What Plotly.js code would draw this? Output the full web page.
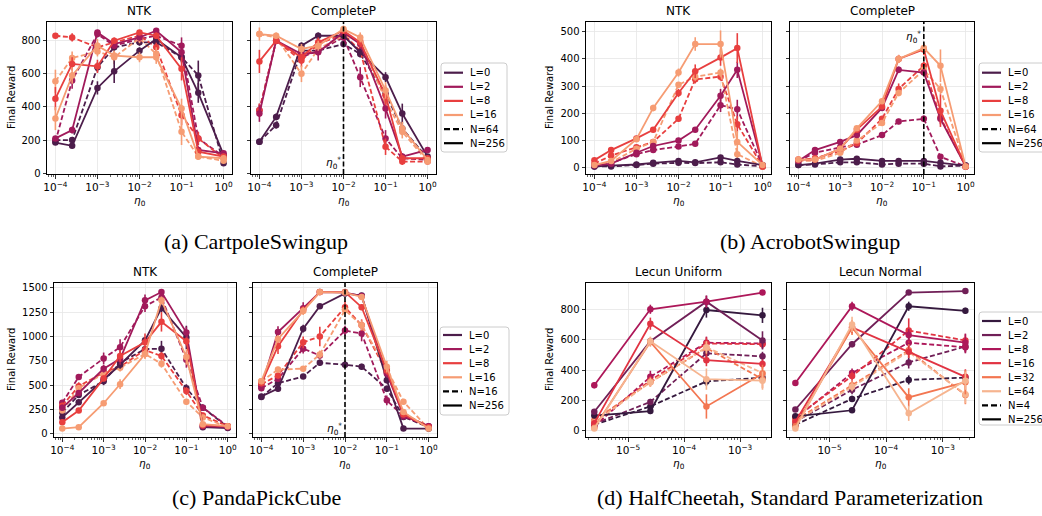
<!DOCTYPE html>
<html>
<head>
<meta charset="utf-8">
<script src="https://cdn.plot.ly/plotly-3.0.1.min.js"></script>
<style>html,body{margin:0;padding:0;background:#fff;}#chart{width:1042px;height:516px;}</style>
</head>
<body>
<div id="chart"></div>
<script>
// ---------------- DATA ----------------
const ETA_GRID = [1e-4, 2.5e-4, 1e-3, 2.5e-3, 1e-2, 2.5e-2, 1e-1, 2.5e-1, 1];
const ETA_LECUN = [2.5e-6, 2.5e-5, 2.5e-4, 2.5e-3];
const DEPTH4 = ['L=0', 'L=2', 'L=8', 'L=16'];
const DEPTH6 = ['L=0', 'L=2', 'L=8', 'L=16', 'L=32', 'L=64'];
const COLORS4 = ['#4c1d4b', '#a11a5b', '#e83f3f', '#f69c73'];
const COLORS6 = ['#35193e', '#701f57', '#ad1759', '#e13342', '#f37651', '#f6b48f'];
const X_TICKS_GRID = [1e-4, 1e-3, 1e-2, 1e-1, 1];
const X_TICKTEXT_GRID = ['10<sup>−4</sup>', '10<sup>−3</sup>', '10<sup>−2</sup>', '10<sup>−1</sup>', '10<sup>0</sup>'];
const X_TICKS_LECUN = [1e-5, 1e-4, 1e-3];
const X_TICKTEXT_LECUN = ['10<sup>−5</sup>', '10<sup>−4</sup>', '10<sup>−3</sup>'];
const PANEL_TITLES = ['NTK', 'CompleteP', 'NTK', 'CompleteP', 'NTK', 'CompleteP', 'Lecun Uniform', 'Lecun Normal'];
const CAPTIONS = ['(a) CartpoleSwingup', '(b) AcrobotSwingup', '(c) PandaPickCube', '(d) HalfCheetah, Standard Parameterization'];
const WIDTH_LABELS_A = ['N=64', 'N=256'];
const WIDTH_LABELS_B = ['N=64', 'N=256'];
const WIDTH_LABELS_C = ['N=16', 'N=256'];
const WIDTH_LABELS_D = ['N=4', 'N=256'];
const ETA_STAR = {cart: 1e-2, acro: 1e-1, panda: 1e-2};

// (a) CartpoleSwingup, NTK  (rows: L=0, L=2, L=8, L=16)
const cartNtkN64 = [
  [200, 200, 640, 760, 790, 790, 700, 590, 60],
  [190, 560, 840, 770, 810, 830, 770, 210, 100],
  [830, 820, 760, 790, 830, 760, 350, 210, 90],
  [555, 695, 735, 700, 815, 720, 250, 100, 75]];
const cartNtkN64Err = [
  [15, 15, 30, 30, 20, 20, 30, 90, 15],
  [15, 50, 20, 20, 20, 20, 50, 40, 15],
  [10, 25, 30, 20, 20, 30, 60, 40, 15],
  [70, 40, 30, 40, 30, 40, 80, 20, 15]];
const cartNtkN256 = [
  [185, 165, 515, 615, 740, 810, 700, 485, 110],
  [210, 260, 850, 780, 820, 860, 730, 140, 120],
  [450, 660, 645, 800, 850, 830, 630, 130, 100],
  [330, 590, 770, 710, 700, 700, 390, 100, 90]];
const cartNtkN256Err = [
  [15, 15, 40, 70, 20, 20, 30, 60, 20],
  [15, 20, 15, 20, 20, 15, 50, 20, 15],
  [70, 40, 40, 20, 15, 20, 70, 20, 15],
  [70, 50, 40, 30, 30, 40, 60, 20, 15]];
// (a) CartpoleSwingup, CompleteP
const cartCpN64 = [
  [190, 290, 740, 740, 780, 720, 480, 270, 90],
  [380, 800, 700, 740, 820, 580, 210, 90, 80],
  [380, 800, 680, 780, 840, 740, 160, 70, 70],
  [840, 820, 600, 750, 830, 800, 440, 250, 70]];
const cartCpN64Err = [
  [15, 20, 20, 20, 20, 20, 40, 40, 15],
  [40, 20, 40, 30, 20, 60, 50, 20, 15],
  [40, 20, 40, 30, 20, 30, 50, 20, 15],
  [20, 20, 50, 30, 20, 30, 50, 40, 15]];
const cartCpN256 = [
  [190, 340, 770, 830, 830, 730, 580, 360, 100],
  [360, 800, 720, 730, 850, 780, 390, 100, 140],
  [675, 800, 700, 790, 860, 790, 470, 90, 90],
  [840, 830, 750, 770, 870, 820, 500, 270, 80]];
const cartCpN256Err = [
  [15, 20, 20, 20, 20, 30, 30, 60, 15],
  [50, 20, 30, 50, 20, 30, 60, 20, 15],
  [70, 20, 30, 30, 20, 30, 60, 20, 15],
  [40, 20, 30, 30, 20, 30, 50, 40, 15]];

// (b) AcrobotSwingup, NTK
const acroNtkN64 = [
  [5, 5, 10, 15, 18, 17, 20, 12, 5],
  [8, 18, 50, 65, 78, 88, 230, 215, 8],
  [15, 45, 75, 95, 180, 325, 335, 160, 5],
  [10, 20, 70, 95, 305, 335, 350, 50, 5]];
const acroNtkN64Err = [
  [3, 3, 3, 4, 4, 4, 5, 4, 3],
  [3, 4, 5, 6, 6, 6, 25, 35, 3],
  [4, 6, 8, 8, 10, 15, 15, 30, 3],
  [3, 5, 8, 10, 10, 15, 15, 15, 3]];
const acroNtkN256 = [
  [5, 8, 12, 18, 25, 20, 38, 25, 10],
  [8, 15, 55, 80, 100, 140, 265, 360, 8],
  [28, 65, 108, 140, 275, 355, 405, 440, 5],
  [10, 25, 105, 220, 350, 455, 455, 95, 10]];
const acroNtkN256Err = [
  [3, 3, 4, 4, 5, 4, 6, 5, 3],
  [3, 4, 6, 6, 8, 8, 25, 30, 3],
  [5, 6, 8, 8, 15, 25, 30, 55, 3],
  [3, 5, 8, 12, 15, 25, 50, 40, 3]];
// (b) AcrobotSwingup, CompleteP
const acroCpN64 = [
  [10, 12, 20, 20, 12, 15, 15, 5, 8],
  [25, 55, 75, 85, 120, 170, 180, 40, 5],
  [28, 35, 60, 90, 180, 290, 375, 185, 5],
  [25, 25, 55, 100, 165, 275, 360, 290, 5]];
const acroCpN64Err = [
  [3, 3, 4, 4, 3, 3, 3, 3, 3],
  [4, 5, 6, 6, 8, 10, 12, 8, 3],
  [4, 5, 6, 8, 10, 20, 15, 20, 3],
  [4, 4, 6, 8, 10, 12, 15, 20, 3]];
const acroCpN256 = [
  [10, 15, 30, 33, 25, 25, 25, 18, 8],
  [25, 65, 95, 120, 220, 360, 350, 180, 5],
  [30, 30, 70, 140, 225, 400, 435, 210, 5],
  [30, 30, 70, 145, 245, 400, 440, 375, 5]];
const acroCpN256Err = [
  [3, 3, 4, 4, 4, 4, 4, 4, 3],
  [4, 6, 6, 8, 10, 12, 12, 20, 3],
  [4, 4, 6, 8, 10, 15, 20, 60, 3],
  [4, 4, 6, 8, 10, 15, 20, 60, 3]];

// (c) PandaPickCube, NTK
const pandaNtkN16 = [
  [220, 400, 540, 730, 870, 875, 470, 270, 70],
  [320, 585, 775, 890, 1310, 1400, 760, 270, 80],
  [290, 490, 630, 690, 860, 800, 440, 190, 80],
  [240, 470, 620, 680, 820, 720, 330, 170, 70]];
const pandaNtkN16Err = [
  [20, 20, 40, 40, 30, 80, 40, 30, 10],
  [30, 30, 60, 80, 60, 30, 80, 30, 10],
  [30, 40, 40, 40, 40, 40, 40, 30, 10],
  [20, 30, 40, 40, 50, 40, 30, 30, 10]];
const pandaNtkN256 = [
  [170, 325, 560, 710, 960, 1290, 990, 70, 60],
  [270, 420, 670, 770, 1370, 1455, 1040, 80, 70],
  [120, 240, 570, 800, 940, 1150, 950, 90, 80],
  [55, 70, 315, 510, 820, 1370, 790, 100, 80]];
const pandaNtkN256Err = [
  [20, 20, 30, 40, 30, 40, 120, 20, 10],
  [30, 30, 40, 60, 60, 20, 60, 20, 10],
  [20, 20, 30, 60, 90, 100, 40, 20, 10],
  [10, 10, 20, 50, 40, 40, 80, 20, 10]];
// (c) PandaPickCube, CompleteP
const pandaCpN16 = [
  [380, 520, 590, 730, 710, 690, 465, 175, 70],
  [470, 565, 875, 805, 1060, 1030, 345, 180, 80],
  [510, 600, 940, 1000, 1300, 1115, 635, 210, 70],
  [540, 660, 670, 815, 1270, 1115, 670, 330, 55]];
const pandaCpN16Err = [
  [20, 20, 20, 30, 30, 30, 30, 20, 10],
  [30, 30, 50, 40, 50, 80, 50, 20, 10],
  [30, 30, 60, 100, 60, 60, 50, 20, 10],
  [20, 30, 20, 40, 40, 50, 40, 30, 10]];
const pandaCpN256 = [
  [385, 465, 1080, 1310, 1440, 1420, 550, 55, 55],
  [490, 1045, 1290, 1455, 1450, 1415, 620, 190, 80],
  [520, 900, 1270, 1455, 1455, 1300, 650, 200, 70],
  [540, 975, 1260, 1455, 1450, 1405, 690, 225, 55]];
const pandaCpN256Err = [
  [20, 30, 40, 20, 20, 20, 30, 10, 10],
  [30, 60, 60, 20, 20, 20, 40, 20, 10],
  [30, 80, 40, 20, 20, 30, 40, 20, 10],
  [30, 40, 40, 20, 20, 30, 60, 30, 10]];

// (d) HalfCheetah SP, Lecun Uniform (rows: L=0,2,8,16,32,64)
const cheetahUniN4 = [
  [40, 160, 325, 350],
  [45, 190, 510, 490],
  [30, 355, 580, 575],
  [60, 330, 575, 570],
  [70, 320, 545, 340],
  [55, 320, 550, 380]];
const cheetahUniN4Err = [
  [10, 20, 30, 30], [10, 20, 30, 30], [10, 40, 40, 30],
  [10, 30, 40, 30], [10, 30, 40, 60], [10, 30, 40, 60]];
const cheetahUniN256 = [
  [100, 130, 795, 760],
  [125, 590, 850, 595],
  [300, 800, 850, 910],
  [50, 705, 465, 440],
  [20, 585, 160, 375],
  [15, 590, 340, 330]];
const cheetahUniN256Err = [
  [15, 20, 50, 50], [15, 20, 40, 60], [20, 30, 40, 15],
  [20, 40, 40, 30], [15, 30, 80, 60], [10, 30, 70, 60]];
// (d) HalfCheetah SP, Lecun Normal
const cheetahNorN4 = [
  [40, 210, 335, 350],
  [60, 270, 450, 555],
  [80, 380, 580, 550],
  [90, 360, 660, 595],
  [70, 300, 530, 235],
  [60, 290, 520, 240]];
const cheetahNorN4Err = [
  [10, 20, 30, 20], [10, 30, 40, 40], [10, 30, 40, 40],
  [10, 30, 80, 40], [10, 30, 40, 60], [10, 30, 40, 60]];
const cheetahNorN256 = [
  [95, 135, 820, 790],
  [140, 570, 910, 920],
  [315, 820, 630, 580],
  [60, 680, 520, 355],
  [30, 680, 220, 320],
  [15, 700, 115, 330]];
const cheetahNorN256Err = [
  [15, 15, 30, 20], [15, 20, 15, 10], [20, 30, 40, 60],
  [15, 40, 40, 50], [15, 50, 60, 80], [10, 50, 50, 60]];

// ---------------- LAYOUT HELPERS ----------------
const W = 1042, H = 516;
const px = v => v / W;
const py = v => 1 - v / H;
const FONT = 'DejaVu Sans, Arial, sans-serif';

const PANELS = [
  {id: 1, xd: [47, 232], yd: [22, 174], xr: [-4.2, 0.2], yr: [-5, 913], yt: [0, 200, 400, 600, 800], lab: true, xs: ETA_GRID, xt: X_TICKS_GRID, xtt: X_TICKTEXT_GRID, colors: COLORS4, groups: [[cartNtkN64, cartNtkN64Err], [cartNtkN256, cartNtkN256Err]]},
  {id: 2, xd: [251, 436], yd: [22, 174], xr: [-4.2, 0.2], yr: [-5, 913], yt: [0, 200, 400, 600, 800], lab: false, xs: ETA_GRID, xt: X_TICKS_GRID, xtt: X_TICKTEXT_GRID, colors: COLORS4, groups: [[cartCpN64, cartCpN64Err], [cartCpN256, cartCpN256Err]], star: ETA_STAR.cart, starY: 0.07},
  {id: 3, xd: [586, 771], yd: [22, 174], xr: [-4.2, 0.2], yr: [-23, 536], yt: [0, 100, 200, 300, 400, 500], lab: true, xs: ETA_GRID, xt: X_TICKS_GRID, xtt: X_TICKTEXT_GRID, colors: COLORS4, groups: [[acroNtkN64, acroNtkN64Err], [acroNtkN256, acroNtkN256Err]]},
  {id: 4, xd: [790, 974], yd: [22, 174], xr: [-4.2, 0.2], yr: [-23, 536], yt: [0, 100, 200, 300, 400, 500], lab: false, xs: ETA_GRID, xt: X_TICKS_GRID, xtt: X_TICKTEXT_GRID, colors: COLORS4, groups: [[acroCpN64, acroCpN64Err], [acroCpN256, acroCpN256Err]], star: ETA_STAR.acro, starY: 0.9},
  {id: 5, xd: [54, 236], yd: [283, 437], xr: [-4.2, 0.2], yr: [-31, 1548], yt: [0, 250, 500, 750, 1000, 1250, 1500], lab: true, xs: ETA_GRID, xt: X_TICKS_GRID, xtt: X_TICKTEXT_GRID, colors: COLORS4, groups: [[pandaNtkN16, pandaNtkN16Err], [pandaNtkN256, pandaNtkN256Err]]},
  {id: 6, xd: [253, 437], yd: [283, 437], xr: [-4.2, 0.2], yr: [-31, 1548], yt: [0, 250, 500, 750, 1000, 1250, 1500], lab: false, xs: ETA_GRID, xt: X_TICKS_GRID, xtt: X_TICKTEXT_GRID, colors: COLORS4, groups: [[pandaCpN16, pandaCpN16Err], [pandaCpN256, pandaCpN256Err]], star: ETA_STAR.panda, starY: 0.05},
  {id: 7, xd: [586, 771], yd: [283, 437], xr: [-5.75, -2.45], yr: [-41, 973], yt: [0, 200, 400, 600, 800], lab: true, xs: ETA_LECUN, xt: X_TICKS_LECUN, xtt: X_TICKTEXT_LECUN, colors: COLORS6, groups: [[cheetahUniN4, cheetahUniN4Err], [cheetahUniN256, cheetahUniN256Err]]},
  {id: 8, xd: [787, 974], yd: [283, 437], xr: [-5.75, -2.45], yr: [-41, 973], yt: [0, 200, 400, 600, 800], lab: false, xs: ETA_LECUN, xt: X_TICKS_LECUN, xtt: X_TICKTEXT_LECUN, colors: COLORS6, groups: [[cheetahNorN4, cheetahNorN4Err], [cheetahNorN256, cheetahNorN256Err]]}
];

function minorTicks(r) {
  const out = [];
  for (let k = Math.floor(r[0]) - 1; k <= Math.ceil(r[1]); k++) {
    for (let m = 2; m <= 9; m++) {
      const v = m * Math.pow(10, k);
      const lv = Math.log10(v);
      if (lv > r[0] && lv < r[1]) out.push(v);
    }
  }
  return out;
}

const traces = [];
const layout = {
  width: W, height: H,
  margin: {l: 0, r: 0, t: 0, b: 0},
  paper_bgcolor: '#fff', plot_bgcolor: '#fff',
  showlegend: false,
  font: {family: FONT, size: 10, color: '#000'},
  shapes: [], annotations: []
};

PANELS.forEach(p => {
  const xa = p.id === 1 ? 'x' : 'x' + p.id;
  const ya = p.id === 1 ? 'y' : 'y' + p.id;
  const xk = p.id === 1 ? 'xaxis' : 'xaxis' + p.id;
  const yk = p.id === 1 ? 'yaxis' : 'yaxis' + p.id;
  layout[xk] = {
    type: 'log', domain: [px(p.xd[0]), px(p.xd[1])], range: p.xr, anchor: ya,
    tickmode: 'array', tickvals: p.xt, ticktext: p.xtt,
    ticks: 'outside', ticklen: 3.5, tickwidth: 0.8, tickcolor: '#000',
    showline: true, mirror: true, linecolor: '#000', linewidth: 1,
    showgrid: true, gridcolor: '#e6e6e6', gridwidth: 0.8, zeroline: false,
    tickfont: {family: FONT, size: 10.5, color: '#000'}, automargin: false,
    minor: {tickmode: 'array', tickvals: minorTicks(p.xr), ticks: 'outside', ticklen: 2, tickwidth: 0.6, tickcolor: '#000', showgrid: false}
  };
  layout[yk] = {
    domain: [py(p.yd[1]), py(p.yd[0])], range: p.yr, anchor: xa,
    tickmode: 'array', tickvals: p.yt, showticklabels: p.lab,
    ticks: 'outside', ticklen: 3.5, tickwidth: 0.8, tickcolor: '#000',
    showline: true, mirror: true, linecolor: '#000', linewidth: 1,
    showgrid: true, gridcolor: '#e6e6e6', gridwidth: 0.8, zeroline: false,
    tickfont: {family: FONT, size: 10, color: '#000'}, automargin: false
  };
  p.groups.forEach((g, gi) => {
    const vals = g[0], errs = g[1];
    vals.forEach((row, i) => {
      const c = p.colors[i];
      traces.push({
        type: 'scatter', mode: 'lines+markers', x: p.xs, y: row,
        xaxis: xa, yaxis: ya, showlegend: false, hoverinfo: 'skip',
        line: {color: c, width: 1.8, dash: gi === 0 ? '5px,2.5px' : 'solid'},
        marker: {color: c, size: 6.5, symbol: 'circle'},
        error_y: {type: 'data', array: errs[i], visible: true, color: c, thickness: 1.6, width: 0}
      });
    });
  });
  if (p.star) {
    traces.push({
      type: 'scatter', mode: 'lines', x: [p.star, p.star], y: p.yr,
      xaxis: xa, yaxis: ya, showlegend: false, hoverinfo: 'skip',
      line: {color: '#000', width: 1.6, dash: '5px,2.5px'}
    });
    layout.annotations.push({
      xref: xa, yref: ya + ' domain', x: Math.log10(p.star), y: p.starY,
      xanchor: 'right', yanchor: 'middle', xshift: -1, showarrow: false,
      text: '<i>η</i><sub>0</sub><sup>*</sup>', font: {family: FONT, size: 10.5, color: '#000'}
    });
  }
  layout.annotations.push({
    xref: xa + ' domain', yref: 'paper', x: 0.5, y: py(p.yd[0] - 11),
    xanchor: 'center', yanchor: 'middle', showarrow: false,
    text: PANEL_TITLES[p.id - 1], font: {family: FONT, size: 12, color: '#000'}
  });
  layout.annotations.push({
    xref: xa + ' domain', yref: 'paper', x: 0.5, y: py(p.yd[1] + 27),
    xanchor: 'center', yanchor: 'middle', showarrow: false,
    text: '<i>η</i><sub>0</sub>', font: {family: FONT, size: 10.5, color: '#000'}
  });
  if (p.lab) {
    const lx = (p.id === 1 || p.id === 5) ? 11 : 549;
    layout.annotations.push({
      xref: 'paper', yref: 'paper', x: px(lx), y: py((p.yd[0] + p.yd[1]) / 2),
      xanchor: 'center', yanchor: 'middle', showarrow: false, textangle: -90,
      text: 'Final Reward', font: {family: FONT, size: 10, color: '#000'}
    });
  }
});

const CAP_POS = [[256, 242], [810, 242], [256, 497], [790, 497]];
CAPTIONS.forEach((t, i) => {
  layout.annotations.push({
    xref: 'paper', yref: 'paper', x: px(CAP_POS[i][0]), y: py(CAP_POS[i][1]),
    xanchor: 'center', yanchor: 'middle', showarrow: false,
    text: t, font: {family: 'Liberation Serif, Times New Roman, serif', size: 22, color: '#000'}
  });
});

function roundedRectPath(x0, x1, y0, y1, r) {
  const X = v => px(v), Y = v => py(v);
  return 'M' + X(x0 + r) + ',' + Y(y0) + ' L' + X(x1 - r) + ',' + Y(y0) +
    ' Q' + X(x1) + ',' + Y(y0) + ' ' + X(x1) + ',' + Y(y0 + r) +
    ' L' + X(x1) + ',' + Y(y1 - r) + ' Q' + X(x1) + ',' + Y(y1) + ' ' + X(x1 - r) + ',' + Y(y1) +
    ' L' + X(x0 + r) + ',' + Y(y1) + ' Q' + X(x0) + ',' + Y(y1) + ' ' + X(x0) + ',' + Y(y1 - r) +
    ' L' + X(x0) + ',' + Y(y0 + r) + ' Q' + X(x0) + ',' + Y(y0) + ' ' + X(x0 + r) + ',' + Y(y0) + ' Z';
}

function addLegend(box, lineX, textX, ys, labels, colors, widthLabels) {
  layout.shapes.push({
    type: 'path', xref: 'paper', yref: 'paper',
    path: roundedRectPath(box[0], box[1], box[2], box[3], 3),
    line: {color: '#cccccc', width: 1}, fillcolor: 'rgba(255,255,255,0.9)', layer: 'above'
  });
  const entries = labels.map((l, i) => ({label: l, color: colors[i], dash: 'solid'}))
    .concat([{label: widthLabels[0], color: '#000', dash: '6px,3px'}, {label: widthLabels[1], color: '#000', dash: 'solid'}]);
  entries.forEach((e, i) => {
    const y = ys[0] + i * ys[1];
    layout.shapes.push({
      type: 'line', xref: 'paper', yref: 'paper', layer: 'above',
      x0: px(lineX[0]), x1: px(lineX[1]), y0: py(y), y1: py(y),
      line: {color: e.color, width: 2.2, dash: e.dash}
    });
    layout.annotations.push({
      xref: 'paper', yref: 'paper', x: px(textX), y: py(y),
      xanchor: 'left', yanchor: 'middle', showarrow: false,
      text: e.label, font: {family: FONT, size: 10, color: '#000'}
    });
  });
}
addLegend([441, 507, 63, 152], [444, 463], 468, [72.7, 14.1], DEPTH4, COLORS4, WIDTH_LABELS_A);
addLegend([979, 1048, 63, 152], [982, 1001], 1006, [72.7, 14.1], DEPTH4, COLORS4, WIDTH_LABELS_B);
addLegend([440, 509, 327, 415], [443, 462], 467, [335, 14.1], DEPTH4, COLORS4, WIDTH_LABELS_C);
addLegend([979, 1048, 312, 425], [982, 1001], 1006, [321, 14.05], DEPTH6, COLORS6, WIDTH_LABELS_D);

Plotly.newPlot('chart', traces, layout, {staticPlot: true, displayModeBar: false});
</script>
</body>
</html>
